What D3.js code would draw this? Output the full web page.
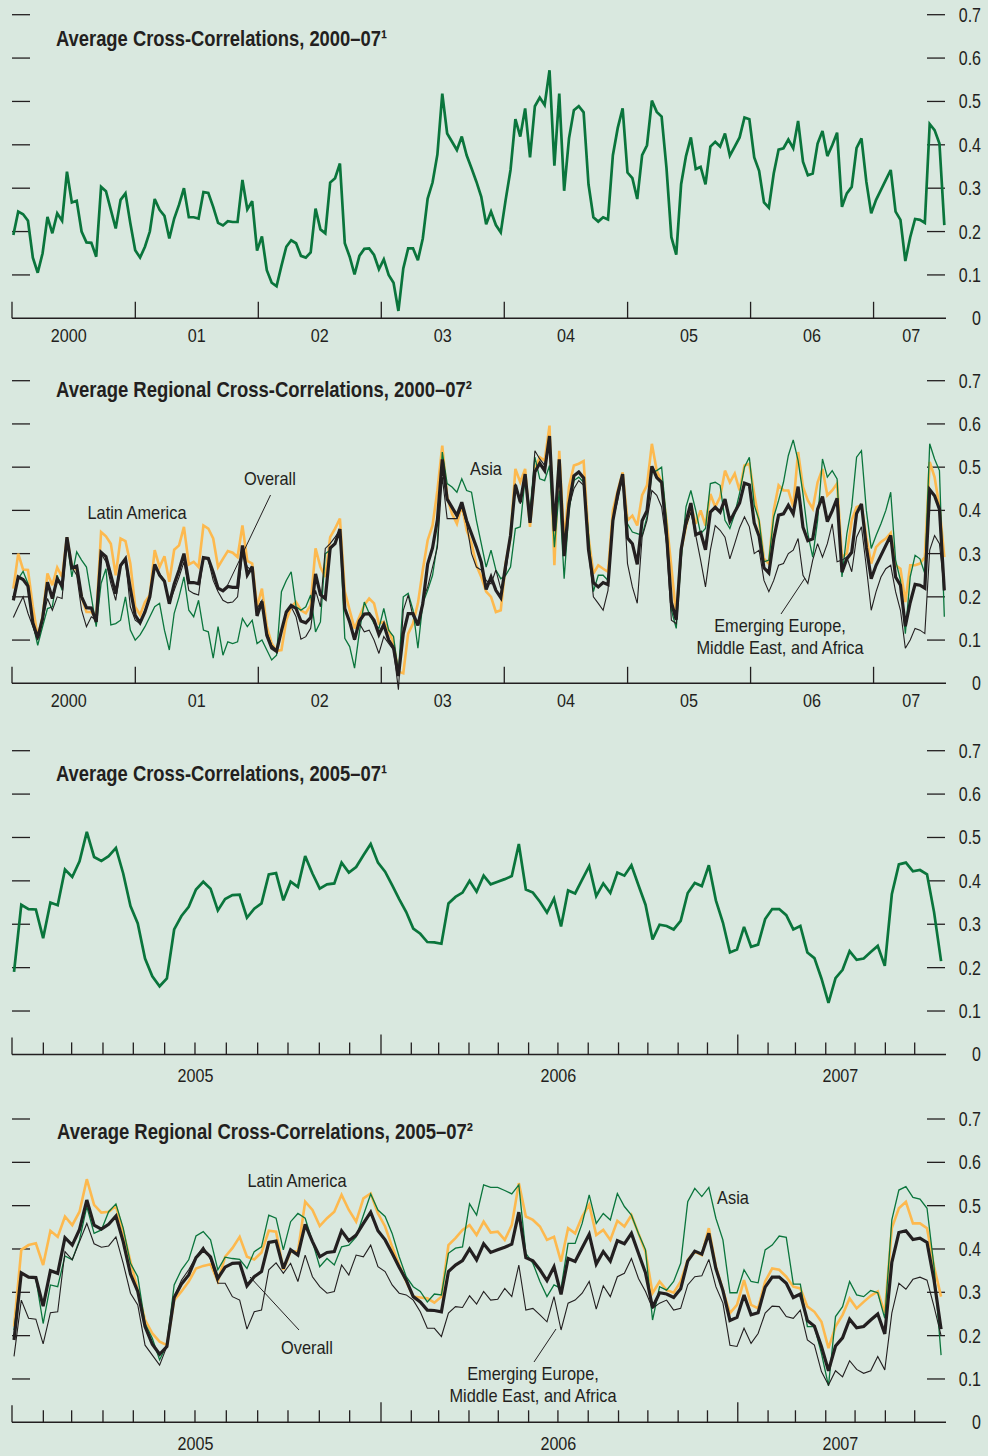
<!DOCTYPE html>
<html><head><meta charset="utf-8">
<script src="https://cdn.jsdelivr.net/npm/d3@7"></script>
<style>body{margin:0;background:#d9e8df}svg{display:block}</style>
</head><body><svg id="c" width="988" height="1456"></svg>
<script>
// ---------------- DATA ----------------
// Biweekly, Jan 2000 – Jul 2007
const overall2000=[
0.192,0.246,0.240,0.225,0.140,0.105,0.150,0.234,0.196,0.242,
0.225,0.338,0.267,0.271,0.200,0.175,0.174,0.142,0.303,0.293,
0.250,0.207,0.273,0.288,0.219,0.157,0.140,0.165,0.200,0.275,
0.250,0.236,0.184,0.230,0.262,0.300,0.233,0.233,0.230,0.291,
0.289,0.257,0.220,0.214,0.224,0.222,0.222,0.319,0.251,0.270,
0.156,0.189,0.111,0.082,0.074,0.121,0.165,0.180,0.173,0.144,
0.140,0.152,0.253,0.205,0.196,0.313,0.323,0.357,0.173,0.142,
0.101,0.144,0.160,0.161,0.146,0.113,0.136,0.100,0.082,0.017,
0.115,0.161,0.161,0.134,0.184,0.276,0.313,0.378,0.518,0.426,
0.407,0.388,0.419,0.376,0.346,0.315,0.280,0.217,0.246,0.215,
0.198,0.273,0.342,0.459,0.419,0.484,0.371,0.489,0.509,0.492,
0.572,0.352,0.518,0.294,0.415,0.480,0.489,0.475,0.309,0.233,
0.223,0.233,0.228,0.376,0.439,0.484,0.336,0.323,0.275,0.376,
0.399,0.502,0.476,0.465,0.346,0.187,0.147,0.309,0.374,0.417,
0.344,0.349,0.309,0.396,0.407,0.396,0.426,0.375,0.396,0.417,
0.463,0.459,0.371,0.340,0.267,0.255,0.334,0.389,0.392,0.412,
0.392,0.455,0.361,0.330,0.334,0.403,0.432,0.374,0.399,0.428,
0.257,0.288,0.303,0.393,0.415,0.315,0.242,0.273,0.296,0.319,
0.342,0.246,0.227,0.132,0.187,0.229,0.227,0.220,0.448,0.434,
0.403,0.215];
const latam2000=[
0.219,0.300,0.263,0.262,0.177,0.108,0.154,0.254,0.227,0.268,
0.246,0.338,0.269,0.263,0.200,0.165,0.165,0.150,0.350,0.340,
0.323,0.250,0.335,0.329,0.277,0.177,0.158,0.188,0.204,0.308,
0.269,0.294,0.235,0.309,0.319,0.362,0.275,0.281,0.269,0.365,
0.358,0.335,0.269,0.288,0.306,0.302,0.292,0.365,0.283,0.277,
0.177,0.219,0.131,0.092,0.075,0.077,0.146,0.177,0.188,0.169,
0.162,0.181,0.312,0.269,0.246,0.338,0.358,0.381,0.212,0.169,
0.127,0.154,0.181,0.196,0.185,0.138,0.142,0.123,0.092,0.027,
0.023,0.115,0.138,0.185,0.262,0.331,0.365,0.446,0.550,0.431,
0.392,0.369,0.412,0.354,0.323,0.273,0.246,0.212,0.200,0.165,
0.169,0.277,0.338,0.496,0.465,0.496,0.362,0.496,0.523,0.515,
0.596,0.273,0.538,0.327,0.454,0.504,0.508,0.514,0.338,0.254,
0.273,0.265,0.258,0.400,0.446,0.488,0.377,0.388,0.365,0.435,
0.458,0.554,0.492,0.465,0.377,0.269,0.154,0.308,0.362,0.412,
0.369,0.400,0.365,0.438,0.408,0.431,0.492,0.465,0.485,0.446,
0.504,0.508,0.438,0.373,0.288,0.277,0.400,0.458,0.446,0.446,
0.408,0.535,0.454,0.423,0.404,0.465,0.496,0.435,0.446,0.462,
0.292,0.300,0.377,0.408,0.412,0.338,0.277,0.315,0.327,0.335,
0.348,0.273,0.265,0.188,0.273,0.273,0.277,0.292,0.512,0.477,
0.408,0.292];
const asia2000=[
0.200,0.242,0.259,0.231,0.138,0.088,0.131,0.173,0.177,0.250,
0.215,0.331,0.246,0.304,0.285,0.269,0.200,0.131,0.231,0.265,
0.135,0.138,0.146,0.200,0.123,0.100,0.112,0.131,0.154,0.177,
0.185,0.123,0.077,0.162,0.200,0.246,0.169,0.154,0.192,0.123,
0.119,0.058,0.131,0.065,0.096,0.092,0.096,0.150,0.131,0.146,
0.092,0.100,0.077,0.054,0.065,0.212,0.238,0.258,0.177,0.169,
0.177,0.204,0.119,0.142,0.300,0.308,0.327,0.354,0.104,0.085,
0.035,0.119,0.188,0.162,0.138,0.127,0.173,0.123,0.108,0.023,
0.200,0.208,0.169,0.081,0.185,0.215,0.250,0.323,0.535,0.462,
0.454,0.442,0.473,0.446,0.442,0.377,0.323,0.269,0.308,0.262,
0.242,0.250,0.269,0.358,0.362,0.477,0.400,0.523,0.473,0.469,
0.504,0.315,0.446,0.242,0.400,0.469,0.477,0.465,0.346,0.212,
0.250,0.250,0.238,0.377,0.438,0.473,0.369,0.350,0.346,0.342,
0.385,0.488,0.492,0.500,0.377,0.169,0.127,0.285,0.408,0.446,
0.400,0.346,0.358,0.462,0.465,0.458,0.377,0.358,0.392,0.440,
0.500,0.523,0.412,0.377,0.281,0.285,0.385,0.423,0.465,0.527,
0.563,0.515,0.438,0.346,0.292,0.377,0.519,0.477,0.492,0.473,
0.246,0.346,0.408,0.523,0.538,0.400,0.312,0.342,0.369,0.400,
0.442,0.285,0.238,0.115,0.246,0.296,0.288,0.254,0.554,0.519,
0.492,0.154];
const emea2000=[
0.152,0.177,0.200,0.162,0.131,0.100,0.146,0.196,0.169,0.200,
0.196,0.335,0.269,0.250,0.169,0.131,0.154,0.146,0.300,0.281,
0.231,0.192,0.269,0.285,0.177,0.146,0.138,0.169,0.200,0.273,
0.254,0.238,0.185,0.215,0.246,0.281,0.215,0.208,0.204,0.292,
0.285,0.238,0.212,0.192,0.186,0.188,0.200,0.300,0.269,0.260,
0.173,0.192,0.119,0.088,0.077,0.123,0.162,0.177,0.154,0.102,
0.108,0.127,0.215,0.177,0.312,0.323,0.338,0.354,0.177,0.138,
0.100,0.138,0.119,0.123,0.100,0.069,0.108,0.092,0.077,-0.015,
0.169,0.204,0.154,0.138,0.192,0.223,0.269,0.315,0.477,0.381,
0.381,0.381,0.408,0.369,0.300,0.269,0.262,0.238,0.230,0.262,
0.219,0.254,0.342,0.462,0.415,0.477,0.377,0.538,0.519,0.504,
0.569,0.362,0.508,0.308,0.408,0.450,0.469,0.458,0.308,0.200,
0.185,0.169,0.215,0.377,0.423,0.477,0.277,0.223,0.185,0.338,
0.377,0.446,0.435,0.408,0.323,0.146,0.138,0.308,0.362,0.396,
0.342,0.285,0.223,0.308,0.365,0.354,0.338,0.288,0.323,0.360,
0.385,0.362,0.300,0.308,0.238,0.212,0.238,0.273,0.277,0.300,
0.308,0.335,0.250,0.231,0.285,0.323,0.292,0.323,0.369,0.281,
0.285,0.292,0.258,0.338,0.362,0.269,0.169,0.212,0.246,0.265,
0.273,0.212,0.169,0.081,0.100,0.127,0.123,0.115,0.308,0.342,
0.323,0.215];

// Weekly, Jan 2005 – Jul 2007
const overall2005=[
0.190,0.345,0.335,0.334,0.268,0.350,0.344,0.426,0.409,0.445,
0.513,0.455,0.446,0.457,0.476,0.417,0.342,0.302,0.221,0.180,
0.157,0.175,0.288,0.319,0.340,0.380,0.398,0.382,0.332,0.358,
0.367,0.368,0.315,0.336,0.348,0.415,0.418,0.355,0.398,0.386,
0.457,0.417,0.382,0.392,0.394,0.442,0.419,0.432,0.459,0.485,
0.442,0.421,0.390,0.358,0.328,0.290,0.278,0.259,0.258,0.255,
0.348,0.363,0.373,0.400,0.375,0.412,0.392,0.398,0.404,0.411,
0.485,0.380,0.373,0.352,0.327,0.359,0.295,0.378,0.371,0.403,
0.434,0.365,0.394,0.372,0.419,0.412,0.436,0.390,0.345,0.265,
0.299,0.296,0.288,0.308,0.372,0.395,0.388,0.436,0.355,0.304,
0.235,0.242,0.294,0.248,0.253,0.312,0.335,0.335,0.321,0.288,
0.296,0.235,0.222,0.175,0.119,0.176,0.195,0.238,0.218,0.221,
0.236,0.250,0.204,0.369,0.438,0.442,0.422,0.425,0.415,0.328,
0.215];
const latam2005=[
0.221,0.398,0.409,0.413,0.363,0.442,0.428,0.475,0.455,0.486,
0.561,0.502,0.484,0.486,0.499,0.440,0.371,0.305,0.236,0.205,
0.186,0.178,0.282,0.302,0.325,0.355,0.361,0.365,0.325,0.382,
0.402,0.428,0.382,0.376,0.392,0.442,0.440,0.352,0.394,0.394,
0.509,0.490,0.453,0.471,0.486,0.525,0.490,0.463,0.517,0.528,
0.482,0.452,0.405,0.363,0.325,0.290,0.288,0.286,0.276,0.290,
0.409,0.425,0.444,0.455,0.432,0.463,0.438,0.440,0.421,0.455,
0.552,0.475,0.467,0.452,0.421,0.428,0.371,0.448,0.436,0.475,
0.502,0.432,0.444,0.421,0.465,0.452,0.478,0.436,0.394,0.298,
0.325,0.305,0.299,0.325,0.375,0.394,0.386,0.448,0.359,0.305,
0.252,0.271,0.328,0.271,0.263,0.325,0.355,0.352,0.336,0.313,
0.309,0.267,0.255,0.232,0.171,0.221,0.248,0.286,0.263,0.278,
0.292,0.302,0.252,0.448,0.494,0.509,0.459,0.459,0.448,0.359,
0.290];
const asia2005=[
0.213,0.344,0.336,0.332,0.228,0.317,0.313,0.384,0.375,0.421,
0.498,0.436,0.444,0.486,0.504,0.448,0.367,0.336,0.228,0.194,
0.144,0.178,0.317,0.352,0.375,0.430,0.440,0.421,0.352,0.381,
0.378,0.376,0.355,0.394,0.405,0.478,0.471,0.398,0.463,0.482,
0.471,0.417,0.359,0.378,0.363,0.405,0.409,0.428,0.478,0.527,
0.490,0.475,0.436,0.382,0.336,0.313,0.302,0.278,0.296,0.294,
0.390,0.402,0.405,0.504,0.478,0.548,0.542,0.542,0.535,0.527,
0.548,0.390,0.367,0.325,0.290,0.317,0.309,0.413,0.413,0.459,
0.525,0.459,0.482,0.467,0.528,0.498,0.478,0.436,0.398,0.236,
0.313,0.305,0.325,0.367,0.509,0.540,0.521,0.542,0.471,0.421,
0.299,0.299,0.352,0.325,0.322,0.398,0.409,0.430,0.427,0.319,
0.319,0.221,0.221,0.159,0.084,0.244,0.267,0.325,0.294,0.290,
0.304,0.299,0.240,0.467,0.536,0.544,0.519,0.515,0.494,0.359,
0.155];
const emea2005=[
0.152,0.282,0.240,0.238,0.181,0.253,0.255,0.394,0.375,0.417,
0.459,0.412,0.404,0.407,0.428,0.367,0.298,0.271,0.178,0.155,
0.132,0.175,0.290,0.328,0.352,0.382,0.405,0.375,0.321,0.321,
0.290,0.282,0.215,0.255,0.259,0.352,0.368,0.344,0.367,0.325,
0.386,0.336,0.313,0.298,0.302,0.363,0.340,0.386,0.382,0.409,
0.359,0.348,0.317,0.298,0.294,0.282,0.255,0.217,0.217,0.198,
0.252,0.267,0.265,0.292,0.273,0.302,0.282,0.284,0.309,0.290,
0.363,0.259,0.263,0.248,0.232,0.290,0.213,0.275,0.282,0.298,
0.325,0.261,0.315,0.290,0.336,0.344,0.378,0.332,0.302,0.263,
0.275,0.282,0.259,0.263,0.317,0.336,0.338,0.376,0.313,0.275,
0.178,0.175,0.217,0.182,0.205,0.252,0.268,0.267,0.244,0.240,
0.259,0.190,0.178,0.117,0.086,0.119,0.105,0.142,0.122,0.113,
0.119,0.152,0.121,0.252,0.321,0.307,0.330,0.335,0.328,0.267,
0.200];

const yTickValues=[0,0.1,0.2,0.3,0.4,0.5,0.6,0.7];
const yearLabelsLong=["2000","01","02","03","04","05","06","07"];
const yearLabelsShort=["2005","2006","2007"];

// ---------------- DRAWING ----------------
const W=988,H=1456;
const BG="#d9e8df", INK="#231f20", GREEN="#0a753c", ORANGE="#fdb94e";
const FONT='"Liberation Sans",Arial,Helvetica,sans-serif';
const svg=d3.select("#c");
svg.append("rect").attr("width",W).attr("height",H).attr("fill",BG);

// condense text horizontally (narrow typeface look)
function condense(sel,f){
  sel.each(function(){
    const L=this.getComputedTextLength();
    this.setAttribute("textLength",(L*f).toFixed(2));
    this.setAttribute("lengthAdjust","spacingAndGlyphs");
  });
  return sel;
}

const xL=12,xR=945;
const xLong=d3.scaleTime().domain([new Date(2000,0,1),new Date(2007,7,1)]).range([xL,xR]);
const xShort=d3.scaleTime().domain([new Date(2005,0,1),new Date(2006,0,1),new Date(2007,7,1)]).range([xL,381,xR]);

function datesFor(n,t0,t1){return d3.range(n).map(i=>new Date(+t0+(t1-t0)*i/(n-1)));}
const longStart=new Date(2000,0,5), longEnd=new Date(2007,6,30);
const shortStart=new Date(2005,0,3), shortEnd=new Date(2007,6,28);

const panels=[
 {top:14.7,bottom:318.3,x:xLong,kind:"long",title:"Average Cross-Correlations, 2000–07\u00B9",tw:331,tb:45.7,tx:56,
  series:[{v:overall2000,c:GREEN,w:2.7}]},
 {top:380.7,bottom:683.3,x:xLong,kind:"long",title:"Average Regional Cross-Correlations, 2000–07\u00B2",tw:416,tb:396.7,tx:56,
  series:[{v:latam2000,c:ORANGE,w:2.6},{v:asia2000,c:GREEN,w:1.3},{v:emea2000,c:INK,w:1.1},{v:overall2000,c:INK,w:3.2}]},
 {top:750.7,bottom:1054.4,x:xShort,kind:"short",title:"Average Cross-Correlations, 2005–07\u00B9",tw:331,tb:780.7,tx:56,
  series:[{v:overall2005,c:GREEN,w:2.7}]},
 {top:1119,bottom:1422.3,x:xShort,kind:"short",title:"Average Regional Cross-Correlations, 2005–07\u00B2",tw:416,tb:1139,tx:57,
  series:[{v:latam2005,c:ORANGE,w:2.6},{v:asia2005,c:GREEN,w:1.3},{v:emea2005,c:INK,w:1.1},{v:overall2005,c:INK,w:3.2}]}
];

panels.forEach((p,pi)=>{
  const g=svg.append("g");
  const y=d3.scaleLinear().domain([0,0.7]).range([p.bottom,p.top]);
  const ticks=yTickValues.filter(v=>v>0);
  g.selectAll(".tl").data(ticks).join("line")
    .attr("x1",xL).attr("x2",xL+18).attr("y1",d=>y(d)).attr("y2",d=>y(d))
    .attr("stroke",INK).attr("stroke-width",1.3);
  g.selectAll(".tr").data(ticks).join("line")
    .attr("x1",xR-18).attr("x2",xR).attr("y1",d=>y(d)).attr("y2",d=>y(d))
    .attr("stroke",INK).attr("stroke-width",1.3);
  condense(g.selectAll(".yl").data(yTickValues).join("text")
    .attr("x",981).attr("y",d=>y(d)).attr("dy","0.36em").attr("text-anchor","end")
    .attr("font-family",FONT).attr("font-size",19.5).attr("fill",INK)
    .text(d=>d===0?"0":d3.format(".1f")(d)),0.82);
  g.append("line").attr("x1",xL).attr("x2",xR+1).attr("y1",p.bottom).attr("y2",p.bottom)
    .attr("stroke",INK).attr("stroke-width",1.5);
  const x=p.x;
  if(p.kind==="long"){
    const yrs=d3.timeYear.range(new Date(2000,0,1),new Date(2007,1,1));
    g.selectAll(".xt").data(yrs).join("line")
      .attr("x1",d=>x(d)).attr("x2",d=>x(d)).attr("y1",p.bottom-16.5).attr("y2",p.bottom)
      .attr("stroke",INK).attr("stroke-width",1.3);
    const mids=yrs.map((d,i)=>{const e=i<yrs.length-1?yrs[i+1]:x.domain()[1];return new Date((+d+ +e)/2);});
    condense(g.selectAll(".xl").data(mids).join("text")
      .attr("x",(d,i)=>x(d)-(i===0?5:0)+(i===yrs.length-1?2:0)).attr("y",p.bottom+24)
      .attr("text-anchor","middle").attr("font-family",FONT).attr("font-size",19).attr("fill",INK)
      .text((d,i)=>yearLabelsLong[i]),0.85);
  } else {
    const months=d3.timeMonth.range(new Date(2005,1,1),new Date(2007,7,1));
    g.selectAll(".xt").data(months).join("line")
      .attr("x1",d=>x(d)).attr("x2",d=>x(d))
      .attr("y1",d=>p.bottom-(d.getMonth()===0?20:12)).attr("y2",p.bottom)
      .attr("stroke",INK).attr("stroke-width",1.3);
    g.append("line").attr("x1",xL).attr("x2",xL).attr("y1",p.bottom-17).attr("y2",p.bottom)
      .attr("stroke",INK).attr("stroke-width",1.3);
    const yrs=[new Date(2005,0,1),new Date(2006,0,1),new Date(2007,0,1)];
    const mids=yrs.map((d,i)=>{const e=i<yrs.length-1?yrs[i+1]:x.domain()[2];return new Date((+d+ +e)/2);});
    condense(g.selectAll(".xl").data(mids).join("text")
      .attr("x",d=>x(d)-1).attr("y",p.bottom+28)
      .attr("text-anchor","middle").attr("font-family",FONT).attr("font-size",19).attr("fill",INK)
      .text((d,i)=>yearLabelsShort[i]),0.85);
  }
  p.series.forEach(s=>{
    const dates=p.kind==="long"?datesFor(s.v.length,longStart,longEnd):datesFor(s.v.length,shortStart,shortEnd);
    const line=d3.line().x((d,i)=>x(dates[i])).y(d=>y(d));
    g.append("path").datum(s.v).attr("d",line).attr("fill","none")
      .attr("stroke",s.c).attr("stroke-width",s.w).attr("stroke-linejoin","miter").attr("stroke-miterlimit",3);
  });
  // title (condensed bold, superscript note marker as a Unicode character)
  g.append("text").attr("x",p.tx).attr("y",p.tb)
    .attr("font-family",FONT).attr("font-weight","bold").attr("font-size",22).attr("fill",INK)
    .attr("textLength",p.tw).attr("lengthAdjust","spacingAndGlyphs").text(p.title);
});

// annotations
function label(lines,x,yb){
  lines.forEach((l,i)=>{
    condense(svg.append("text").attr("x",x).attr("y",yb+i*21.5).attr("text-anchor","middle")
      .attr("font-family",FONT).attr("font-size",19).attr("fill",INK).text(l),0.86);
  });
}
function pointer(x1,y1,x2,y2){
  svg.append("line").attr("x1",x1).attr("y1",y1).attr("x2",x2).attr("y2",y2).attr("stroke",INK).attr("stroke-width",1);
}
// panel 2
label(["Latin America"],137,519);
label(["Overall"],270,485);
pointer(270.5,495,226.7,587);
label(["Asia"],486,475);
label(["Emerging Europe,","Middle East, and Africa"],780,632);
pointer(781,614,805,578);
// panel 4
label(["Latin America"],297,1187);
label(["Overall"],307,1354);
pointer(299,1330,250,1277);
label(["Asia"],733,1204);
label(["Emerging Europe,","Middle East, and Africa"],533,1380);
pointer(534,1362,556,1329);
</script></body></html>
